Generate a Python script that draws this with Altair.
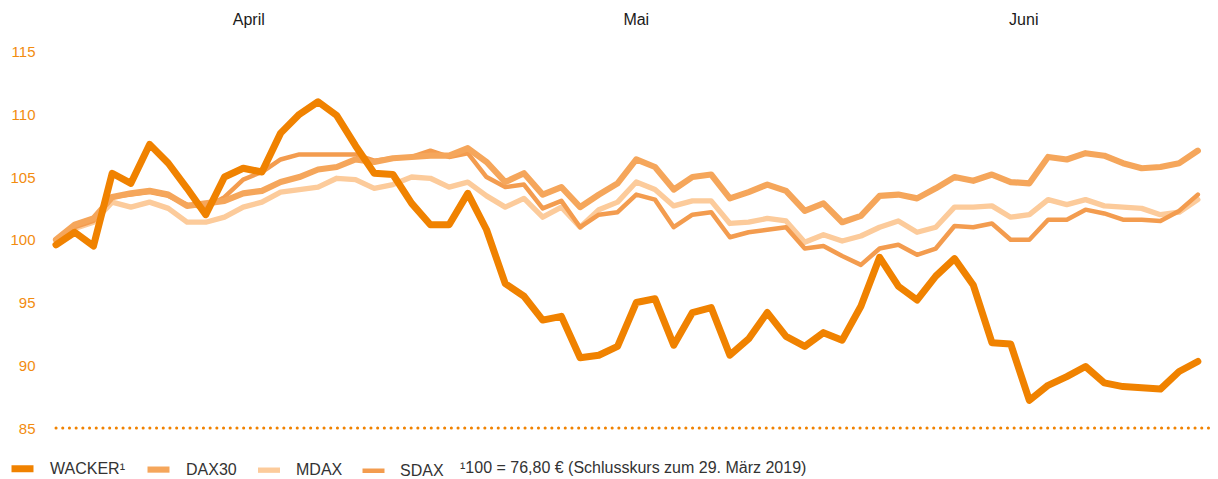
import altair as alt
import pandas as pd

# ---------------- data ----------------
series_names = ["WACKER¹", "DAX30", "MDAX", "SDAX"]
series_colors = ["#F08200", "#F5A65B", "#FCCB9B", "#F39C4F"]
series_widths = [7, 4.5, 3, 3]

day_index = list(range(62))

wacker = [99.6, 100.6, 99.5, 105.3, 104.5, 107.6, 106.1, 104.1, 102.0, 105.0,
          105.7, 105.4, 108.5, 110.0, 111.0, 109.9, 107.5, 105.3, 105.2, 102.9,
          101.2, 101.2, 103.7, 100.8, 96.5, 95.5, 93.6, 93.9, 90.6, 90.8,
          91.5, 95.0, 95.3, 91.6, 94.2, 94.6, 90.8, 92.1, 94.2, 92.3,
          91.5, 92.6, 92.0, 94.7, 98.6, 96.3, 95.2, 97.1, 98.5, 96.4,
          91.8, 91.7, 87.2, 88.4, 89.1, 89.9, 88.6, 88.3, 88.2, 88.1,
          89.5, 90.3]

dax30 = [100.0, 101.2, 101.7, 103.4, 103.7, 103.9, 103.6, 102.7, 102.9, 103.1,
         103.7, 103.9, 104.6, 105.0, 105.6, 105.8, 106.4, 106.2, 106.5, 106.6,
         106.7, 106.7, 107.3, 106.2, 104.6, 105.3, 103.6, 104.2, 102.6, 103.6,
         104.5, 106.4, 105.8, 104.0, 105.0, 105.2, 103.3, 103.8, 104.4, 103.9,
         102.3, 102.9, 101.4, 101.9, 103.5, 103.6, 103.3, 104.1, 105.0, 104.7,
         105.2, 104.6, 104.5, 106.6, 106.4, 106.9, 106.7, 106.1, 105.7, 105.8,
         106.1, 107.1]

mdax = [100.0, 100.9, 101.4, 103.0, 102.6, 103.0, 102.5, 101.4, 101.4, 101.8,
        102.6, 103.0, 103.8, 104.0, 104.2, 104.9, 104.8, 104.1, 104.4, 105.0,
        104.9, 104.2, 104.6, 103.5, 102.6, 103.3, 101.8, 102.6, 101.0, 102.4,
        103.0, 104.6, 104.0, 102.7, 103.1, 103.1, 101.3, 101.4, 101.7, 101.5,
        99.8, 100.4, 99.9, 100.3, 101.0, 101.5, 100.6, 101.0, 102.6, 102.6,
        102.7, 101.8, 102.0, 103.2, 102.8, 103.2, 102.7, 102.6, 102.5, 102.0,
        102.2, 103.2]

sdax = [100.0, 101.0, 101.5, 103.4, 103.6, 103.8, 103.5, 102.8, 102.6, 103.4,
        104.8, 105.4, 106.4, 106.8, 106.8, 106.8, 106.8, 106.3, 106.5, 106.6,
        107.1, 106.6, 106.9, 105.0, 104.2, 104.4, 102.5, 103.1, 101.0, 102.0,
        102.2, 103.6, 103.2, 101.0, 102.0, 102.2, 100.2, 100.6, 100.8, 101.0,
        99.3, 99.5, 98.7, 98.0, 99.3, 99.6, 98.8, 99.3, 101.1, 101.0,
        101.3, 100.0, 100.0, 101.6, 101.6, 102.4, 102.1, 101.6, 101.6, 101.5,
        102.3, 103.6]

months = ["April", "Mai", "Juni"]
month_pos = [10.3, 31.0, 51.7]

y_ticks = [85, 90, 95, 100, 105, 110, 115]
baseline_value = [85]
footnote = ["¹100 = 76,80 € (Schlusskurs zum 29. März 2019)"]

# ---------------- tables ----------------
frames = []
for name, vals in [("MDAX", mdax), ("SDAX", sdax), ("DAX30", dax30), ("WACKER¹", wacker)]:
    frames.append(pd.DataFrame({"day": day_index, "value": vals, "series": name}))
df = pd.concat(frames, ignore_index=True)
df_months = pd.DataFrame({"pos": month_pos, "month": months})
df_note = pd.DataFrame({"note": footnote})
df_base = pd.DataFrame({"base": baseline_value})

FONT = "Liberation Sans"
W, H = 1154, 389
x_scale = alt.Scale(domain=[0, 61.65], nice=False, zero=False)
y_scale = alt.Scale(domain=[85, 116], nice=False, zero=False)
y_axis = alt.Axis(values=y_ticks, ticks=False, domain=False, grid=False,
                  title=None, labelColor="#F28C10", labelFontSize=15,
                  labelFont=FONT, labelPadding=21)

legend = alt.Legend(
    title=None, orient="none", direction="horizontal",
    legendX=-48, legendY=415,
    symbolType="stroke", symbolSize=484,
    labelFont=FONT, labelFontSize=16, labelColor="#333333",
    labelOffset=13, columnPadding=10,
)

lines = alt.Chart(df).mark_line(strokeCap="round", strokeJoin="round").encode(
    x=alt.X("day:Q", scale=x_scale, axis=None),
    y=alt.Y("value:Q", scale=y_scale, axis=y_axis),
    color=alt.Color("series:N", scale=alt.Scale(domain=series_names, range=series_colors),
                    legend=legend),
    strokeWidth=alt.StrokeWidth("series:N",
                                scale=alt.Scale(domain=series_names, range=series_widths),
                                legend=legend),
    detail="series:N",
)

baseline = alt.Chart(df_base).mark_rule(
    color="#F08200", strokeWidth=3, strokeDash=[0.1, 6.6], strokeCap="round"
).encode(
    y=alt.Y("base:Q", scale=y_scale, axis=y_axis),
    x=alt.value(0),
    x2=alt.value(W),
)

month_text = alt.Chart(df_months).mark_text(
    font=FONT, fontSize=16, color="#1a1a1a", align="center", baseline="middle"
).encode(
    x=alt.X("pos:Q", scale=x_scale, axis=None),
    y=alt.value(-19),
    text="month:N",
)

note_text = alt.Chart(df_note).mark_text(
    font=FONT, fontSize=16, color="#333333", align="left", baseline="middle"
).encode(
    x=alt.value(404),
    y=alt.value(429),
    text="note:N",
)

chart = alt.layer(lines, baseline, month_text, note_text).properties(
    width=W, height=H,
    autosize=alt.AutoSizeParams(type="none"),
    padding={"left": 48, "top": 31, "right": 0, "bottom": 50},
).configure_view(stroke=None)

chart.save("out.html", embed_options={"renderer": "svg", "actions": False})
